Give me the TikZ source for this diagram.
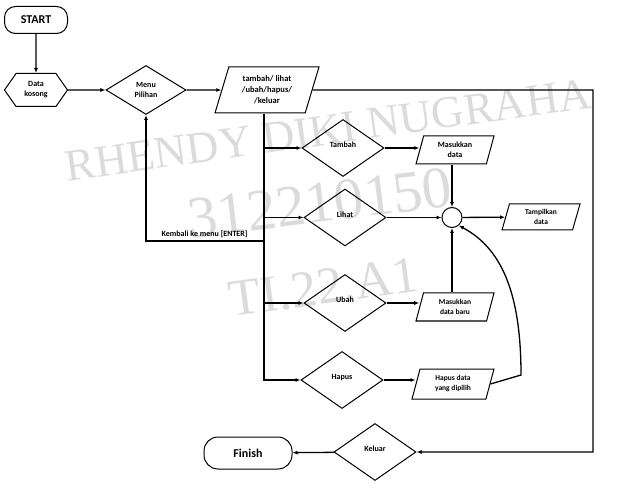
\documentclass[tikz,border=0pt]{standalone}
\usepackage{fontspec}
\setmainfont{Carlito}
\newfontfamily\wmfont{Liberation Serif}
\usetikzlibrary{shapes.geometric,shapes.symbols,arrows.meta}

\begin{document}
\begin{tikzpicture}[x=1pt,y=-1pt,line width=1pt,
	>={Latex[length=5pt,width=4pt]},
	every node/.style={font=\bfseries\fontsize{8}{10}\selectfont, align=center, inner sep=0pt},
	garis/.style={line width=1.3pt, ->},
	ujung/.style={draw, rounded corners=11pt},
	pilih/.style={draw, diamond, minimum width=82pt, minimum height=57pt, text height=6pt, text depth=6.8pt},
	masuk/.style={draw, trapezium, trapezium left angle=64, trapezium right angle=116, trapezium stretches body, minimum width=78pt, minimum height=28pt},
	watermark/.style={text=black!14, rotate=8}]
		\useasboundingbox (0,0) rectangle (643,497);
		
		%Watermark
		\node[watermark, font=\wmfont\fontsize{45}{45}\selectfont] (W1) at (328,130) {RHENDY DIKI NUGRAHA};
		\node[watermark, font=\wmfont\fontsize{59}{59}\selectfont, rotate=-1] (W2) at (320,203) {312210150};
		\node[watermark, font=\wmfont\fontsize{52}{52}\selectfont] (W3) at (324,287) {TI.22.A1};
		
		%Start and menu
		\node[ujung, minimum width=63pt, minimum height=27pt, font=\bfseries\fontsize{12}{14}\selectfont] (A1) at (36,20) {START};
		\node[draw, signal, signal to=west and east, signal pointer angle=110, minimum width=63pt, minimum height=33pt] (A2) at (36,90) {Data\\kosong};
		\node[draw, diamond, minimum width=80pt, minimum height=49pt] (A3) at (146,90) {Menu\\Pilihan};
		\node[masuk, minimum width=104pt, minimum height=46pt, font=\bfseries\fontsize{8.5}{11}\selectfont] (A4) at (267,90) {tambah/ lihat\\/ubah/hapus/\\/keluar};
		\node[ujung, rounded corners=14pt, minimum width=88pt, minimum height=32pt, font=\bfseries\fontsize{12}{14}\selectfont] (A5) at (248,453) {Finish};
		
		%Choices
		\node[pilih] (B1) at (343,148) {Tambah};
		\node[pilih] (B2) at (345,217.5) {Lihat};
		\node[pilih] (B3) at (345,303) {Ubah};
		\node[pilih] (B4) at (342,380) {Hapus};
		\node[pilih] (B5) at (375,452) {Keluar};
		
		%Data
		\node[masuk] (C1) at (455,150) {Masukkan\\data};
		\node[masuk, minimum height=26pt, font=\bfseries\fontsize{7.5}{10}\selectfont] (C2) at (541,217) {Tampilkan\\data};
		\node[masuk, font=\bfseries\fontsize{7.5}{10}\selectfont] (C3) at (455,307) {Masukkan\\data baru};
		\node[masuk, minimum width=82pt, minimum height=30pt, font=\bfseries\fontsize{7.5}{10}\selectfont] (C4) at (453,384) {Hapus data\\yang dipilih};
		\node[draw, circle, minimum size=20pt] (J) at (452,217.5) {};
		
		\coordinate (T1) at (264,380);
		\coordinate (T2) at (264,241);
		\coordinate (K1) at (593,90);
		\coordinate (H1) at (521,375);
		\node[anchor=south east] (L1) at (248,238) {Kembali ke menu [ENTER]};
		
		%Connectors
		\draw[garis] (A1) -- (A2);
		\draw[garis] (A2) -- (A3);
		\draw[garis] (A3) -- (A4);
		\draw[garis] (A4.east) -- (K1) |- (B5);
		\draw[garis] (B5) -- (A5);
		\draw[garis] (A4.south -| T1) -- (T1) -- (B4);
		\foreach \n in {B1,B2,B3}
			\draw[garis] (\n.west -| T1) -- (\n);
		\draw[garis] (T2) -| (A3);
		
		\draw[garis] (B1) -- (B1 -| C1.west);
		\draw[garis] (B3) -- (B3 -| C3.west);
		\draw[garis] (B4) -- (B4 -| C4.west);
		\draw[garis] (B2) -- (J);
		\draw[garis] (J) -- (C2);
		\draw[garis] (C1.south -| J) -- (J);
		\draw[garis] (C3.north -| J) -- (J);
		\draw[garis] (C4.east) -- (H1) .. controls (521,300) and (505,250) .. (J.-50);
		
	\end{tikzpicture}
\end{document}
